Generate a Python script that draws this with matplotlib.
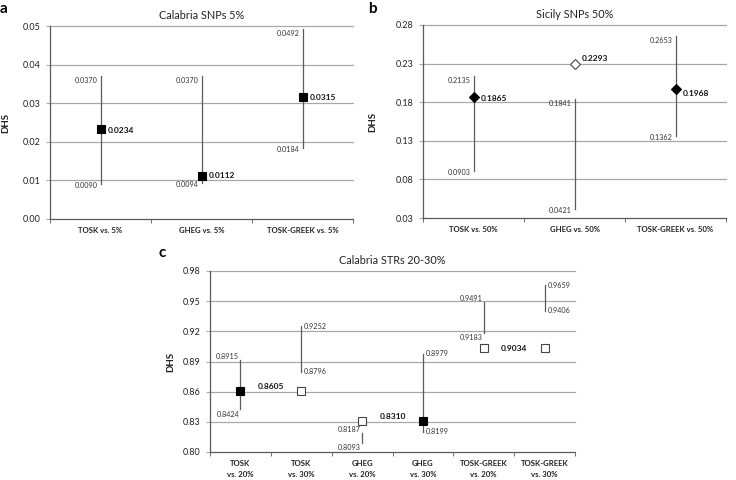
import numpy as np
import matplotlib
matplotlib.use('Agg')
import matplotlib.pyplot as plt

plt.rcParams['font.family'] = ['Lato', 'DejaVu Sans']

# Panel a: Calabria SNPs 5%
a_cats = ['TOSK vs. 5%', 'GHEG vs. 5%', 'TOSK-GREEK vs. 5%']
a_dhs = [0.0234, 0.0112, 0.0315]
a_low = [0.0090, 0.0094, 0.0184]
a_high = [0.0370, 0.0370, 0.0492]
a_ticks = [0.00, 0.01, 0.02, 0.03, 0.04, 0.05]

# Panel b: Sicily SNPs 50%
b_cats = ['TOSK vs. 50%', 'GHEG vs. 50%', 'TOSK-GREEK vs. 50%']
b_dhs = [0.1865, 0.2293, 0.1968]
b_low = [0.0903, 0.0421, 0.1362]
b_high = [0.2135, 0.1841, 0.2653]
b_ticks = [0.03, 0.08, 0.13, 0.18, 0.23, 0.28]

# Panel c: Calabria STRs 20-30%
c_cats = ['TOSK\nvs. 20%', 'TOSK\nvs. 30%', 'GHEG\nvs. 20%', 'GHEG\nvs. 30%',
          'TOSK-GREEK\nvs. 20%', 'TOSK-GREEK\nvs. 30%']
c_dhs = [0.8605, 0.8605, 0.8310, 0.8310, 0.9034, 0.9034]
c_low = [0.8424, 0.8796, 0.8093, 0.8199, 0.9183, 0.9406]
c_high = [0.8915, 0.9252, 0.8187, 0.8979, 0.9491, 0.9659]
c_ticks = [0.80, 0.83, 0.86, 0.89, 0.92, 0.95, 0.98]

LINE = '#5a5a5a'
GRID = '#a8a8a8'
W, H = 736, 480
SMALL = 5.2


def px_axes(fig, left, top, right, bottom):
    return fig.add_axes([left / W, 1 - bottom / H, (right - left) / W, (bottom - top) / H])


def setup(ax, cats, ticks, title, ylab_x):
    n = len(cats)
    ax.set_xlim(-0.5, n - 0.5)
    ax.set_ylim(ticks[0], ticks[-1])
    ax.set_yticks(ticks)
    ax.set_yticklabels(['%.2f' % t for t in ticks], fontsize=6.5, color='#222222')
    ax.set_xticks(np.arange(n))
    ax.set_xticklabels(cats, fontsize=5.6, fontweight='bold', color='#222222', linespacing=1.6)
    ax.set_xticks(np.arange(n + 1) - 0.5, minor=True)
    ax.tick_params(axis='x', which='major', length=0, pad=6)
    ax.tick_params(axis='x', which='minor', length=3, color=LINE, direction='out')
    ax.tick_params(axis='y', length=3, color=GRID, pad=4)
    for s in ['top', 'right']:
        ax.spines[s].set_visible(False)
    ax.spines['left'].set_color(LINE)
    ax.spines['bottom'].set_color(LINE)
    ax.spines['left'].set_linewidth(0.9)
    ax.spines['bottom'].set_linewidth(0.9)
    for t in ticks[1:]:
        ax.axhline(t, color=GRID, lw=0.9, zorder=0, clip_on=False)
    ax.set_title(title, fontsize=7.8, pad=5, color='#222222')
    ax.set_ylabel('DHS', fontsize=7, fontweight='bold', color='#222222')
    ax.yaxis.set_label_coords(ylab_x, 0.5)


def draw_intervals(ax, dhs, low, high, marker, ms, sides, top_style, val_offsets=None):
    for i, (v, lo, hi) in enumerate(zip(dhs, low, high)):
        ax.plot([i, i], [lo, hi], color=LINE, lw=0.9, zorder=2)
        inside = lo <= v <= hi
        ax.plot(i, v, marker=marker, ms=ms, mfc='black' if inside else 'white',
                mec='black' if inside else '#444444', mew=0.8, zorder=3, ls='none')
        if sides[i] == 'left':
            if top_style == 'ab':
                ax.annotate('%.4f' % hi, (i, hi), xytext=(-2, -3), textcoords='offset points',
                            ha='right', va='center', fontsize=SMALL, color='#333333')
                ax.annotate('%.4f' % lo, (i, lo), xytext=(-2, -1), textcoords='offset points',
                            ha='right', va='center', fontsize=SMALL, color='#333333')
            else:
                ax.annotate('%.4f' % hi, (i, hi), xytext=(-1, 0), textcoords='offset points',
                            ha='right', va='bottom', fontsize=SMALL, color='#333333')
                ax.annotate('%.4f' % lo, (i, lo), xytext=(-1, -1), textcoords='offset points',
                            ha='right', va='top', fontsize=SMALL, color='#333333')
        else:
            ax.annotate('%.4f' % hi, (i, hi), xytext=(2, 0), textcoords='offset points',
                        ha='left', va='center', fontsize=SMALL, color='#333333')
            ax.annotate('%.4f' % lo, (i, lo), xytext=(2, 0), textcoords='offset points',
                        ha='left', va='center', fontsize=SMALL, color='#333333')
        if val_offsets is not None:
            dx, dy = val_offsets[i]
            ax.annotate('%.4f' % v, (i, v), xytext=(dx, dy), textcoords='offset points',
                        ha='left', va='center', fontsize=6, fontweight='bold', color='#111111')


fig = plt.figure(figsize=(W / 100, H / 100), dpi=100)

# a
ax_a = px_axes(fig, 50, 26, 353, 219)
setup(ax_a, a_cats, a_ticks, 'Calabria SNPs 5%', -0.13)
draw_intervals(ax_a, a_dhs, a_low, a_high, 's', 6, ['left'] * 3, 'ab',
               [(5, -1), (5, 0), (5, 0)])
fig.text(4 / W, 1 - 9 / H, 'a', fontsize=11, fontweight='bold', ha='center', va='center')

# b
ax_b = px_axes(fig, 423, 25, 726, 218)
setup(ax_b, b_cats, b_ticks, 'Sicily SNPs 50%', -0.15)
draw_intervals(ax_b, b_dhs, b_low, b_high, 'D', 5.5, ['left'] * 3, 'ab',
               [(5, -1), (5, 4), (5, -3)])
fig.text(372 / W, 1 - 9 / H, 'b', fontsize=11, fontweight='bold', ha='center', va='center')

# c
ax_c = px_axes(fig, 210, 271, 575, 452)
setup(ax_c, c_cats, c_ticks, 'Calabria STRs 20-30%', -0.095)
draw_intervals(ax_c, c_dhs, c_low, c_high, 's', 6,
               ['left', 'right'] * 3, 'c')
for k in range(0, len(c_dhs), 2):
    dy = [3, 3, 0][k // 2]
    ax_c.annotate('%.4f' % c_dhs[k], (k + 0.5, c_dhs[k]), xytext=(0, dy),
                  textcoords='offset points', ha='center', va='center',
                  fontsize=6, fontweight='bold', color='#111111')
fig.text(162 / W, 1 - 253 / H, 'c', fontsize=11, fontweight='bold', ha='center', va='center')

fig.savefig('out.png', dpi=100)
